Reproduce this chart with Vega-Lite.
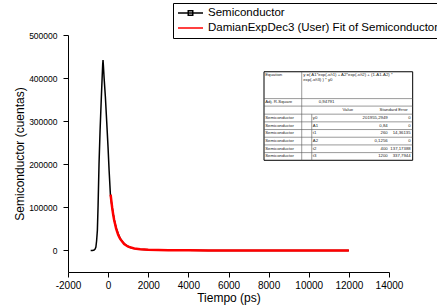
{
  "$schema": "https://vega.github.io/schema/vega-lite/v6.json",
  "width": 321,
  "height": 237,
  "autosize": "none",
  "padding": {"left": 68, "top": 35, "right": 48, "bottom": 34},
  "background": "white",
  "config": {
    "view": {"stroke": null},
    "font": "Liberation Sans",
    "axis": {
      "grid": false,
      "domainColor": "black",
      "tickColor": "black",
      "labelColor": "black",
      "titleColor": "black",
      "labelFont": "Liberation Sans",
      "titleFont": "Liberation Sans",
      "titleFontWeight": "normal",
      "titleFontSize": 12,
      "tickSize": 5,
      "labelOverlap": false,
      "labelFlush": false
    }
  },
  "datasets": {
    "semi": [
      {"t": -870, "v": 0, "s": "Semiconductor"},
      {"t": -780, "v": 0, "s": "Semiconductor"},
      {"t": -700, "v": 1000, "s": "Semiconductor"},
      {"t": -650, "v": 3000, "s": "Semiconductor"},
      {"t": -610, "v": 8000, "s": "Semiconductor"},
      {"t": -575, "v": 22000, "s": "Semiconductor"},
      {"t": -536, "v": 46500, "s": "Semiconductor"},
      {"t": -500, "v": 105000, "s": "Semiconductor"},
      {"t": -453, "v": 201600, "s": "Semiconductor"},
      {"t": -400, "v": 280000, "s": "Semiconductor"},
      {"t": -337, "v": 356700, "s": "Semiconductor"},
      {"t": -295, "v": 405000, "s": "Semiconductor"},
      {"t": -270, "v": 432000, "s": "Semiconductor"},
      {"t": -254, "v": 442000, "s": "Semiconductor"},
      {"t": -240, "v": 432000, "s": "Semiconductor"},
      {"t": -200, "v": 400000, "s": "Semiconductor"},
      {"t": -137, "v": 356700, "s": "Semiconductor"},
      {"t": -70, "v": 298000, "s": "Semiconductor"},
      {"t": -5, "v": 240400, "s": "Semiconductor"},
      {"t": 50, "v": 185000, "s": "Semiconductor"},
      {"t": 112, "v": 131000, "s": "Semiconductor"},
      {"t": 150, "v": 116000, "s": "Semiconductor"},
      {"t": 200, "v": 100000, "s": "Semiconductor"},
      {"t": 250, "v": 86000, "s": "Semiconductor"},
      {"t": 328, "v": 66000, "s": "Semiconductor"},
      {"t": 400, "v": 53000, "s": "Semiconductor"},
      {"t": 500, "v": 39000, "s": "Semiconductor"},
      {"t": 577, "v": 30500, "s": "Semiconductor"},
      {"t": 700, "v": 21000, "s": "Semiconductor"},
      {"t": 800, "v": 16000, "s": "Semiconductor"},
      {"t": 911, "v": 11500, "s": "Semiconductor"},
      {"t": 1100, "v": 7000, "s": "Semiconductor"},
      {"t": 1300, "v": 4800, "s": "Semiconductor"},
      {"t": 1574, "v": 3000, "s": "Semiconductor"},
      {"t": 2000, "v": 1700, "s": "Semiconductor"},
      {"t": 2500, "v": 1000, "s": "Semiconductor"},
      {"t": 3000, "v": 600, "s": "Semiconductor"},
      {"t": 4000, "v": 250, "s": "Semiconductor"},
      {"t": 5000, "v": 120, "s": "Semiconductor"},
      {"t": 6000, "v": 60, "s": "Semiconductor"},
      {"t": 8000, "v": 15, "s": "Semiconductor"},
      {"t": 10000, "v": 0, "s": "Semiconductor"},
      {"t": 12000, "v": 0, "s": "Semiconductor"}
    ],
    "fit": [
      {"t": 125, "v": 129700, "s": "DamianExpDec3 (User) Fit of Semiconductor"},
      {"t": 150, "v": 118850, "s": "DamianExpDec3 (User) Fit of Semiconductor"},
      {"t": 200, "v": 99890, "s": "DamianExpDec3 (User) Fit of Semiconductor"},
      {"t": 250, "v": 84060, "s": "DamianExpDec3 (User) Fit of Semiconductor"},
      {"t": 300, "v": 70890, "s": "DamianExpDec3 (User) Fit of Semiconductor"},
      {"t": 400, "v": 50710, "s": "DamianExpDec3 (User) Fit of Semiconductor"},
      {"t": 500, "v": 36650, "s": "DamianExpDec3 (User) Fit of Semiconductor"},
      {"t": 600, "v": 26760, "s": "DamianExpDec3 (User) Fit of Semiconductor"},
      {"t": 800, "v": 14820, "s": "DamianExpDec3 (User) Fit of Semiconductor"},
      {"t": 1000, "v": 8720, "s": "DamianExpDec3 (User) Fit of Semiconductor"},
      {"t": 1300, "v": 4480, "s": "DamianExpDec3 (User) Fit of Semiconductor"},
      {"t": 1600, "v": 2660, "s": "DamianExpDec3 (User) Fit of Semiconductor"},
      {"t": 2000, "v": 1560, "s": "DamianExpDec3 (User) Fit of Semiconductor"},
      {"t": 2500, "v": 910, "s": "DamianExpDec3 (User) Fit of Semiconductor"},
      {"t": 3000, "v": 570, "s": "DamianExpDec3 (User) Fit of Semiconductor"},
      {"t": 4000, "v": 250, "s": "DamianExpDec3 (User) Fit of Semiconductor"},
      {"t": 5000, "v": 110, "s": "DamianExpDec3 (User) Fit of Semiconductor"},
      {"t": 6000, "v": 47, "s": "DamianExpDec3 (User) Fit of Semiconductor"},
      {"t": 8000, "v": 9, "s": "DamianExpDec3 (User) Fit of Semiconductor"},
      {"t": 10000, "v": 2, "s": "DamianExpDec3 (User) Fit of Semiconductor"},
      {"t": 12000, "v": 0, "s": "DamianExpDec3 (User) Fit of Semiconductor"}
    ],
    "box": [
      {"x": 7770, "x2": 15180, "y": 209260, "y2": 414700}
    ],
    "grid": [
      {"x": 7770, "x2": 15180, "y": 352400, "y2": 352400},
      {"x": 7770, "x2": 15180, "y": 335000, "y2": 335000},
      {"x": 7770, "x2": 15180, "y": 316300, "y2": 316300},
      {"x": 7770, "x2": 15180, "y": 298460, "y2": 298460},
      {"x": 7770, "x2": 15180, "y": 280620, "y2": 280620},
      {"x": 7770, "x2": 15180, "y": 262780, "y2": 262780},
      {"x": 7770, "x2": 15180, "y": 244940, "y2": 244940},
      {"x": 7770, "x2": 15180, "y": 227100, "y2": 227100},
      {"x": 9650, "x2": 9650, "y": 209260, "y2": 414700},
      {"x": 10150, "x2": 10150, "y": 209260, "y2": 316300}
    ],
    "tleft": [
      {"x": 7830, "y": 407000, "txt": "Equation"},
      {"x": 9720, "y": 407000, "txt": "y =( A1*exp(-x/t1) + A2*exp(-x/t2) + (1-A1-A2) *"},
      {"x": 9720, "y": 395400, "txt": "exp(-x/t3) ) * y0"},
      {"x": 7830, "y": 344250, "txt": "Adj. R-Square"},
      {"x": 10500, "y": 344250, "txt": "0,94791"},
      {"x": 7830, "y": 307380, "txt": "Semiconductor"},
      {"x": 7830, "y": 289540, "txt": "Semiconductor"},
      {"x": 7830, "y": 271700, "txt": "Semiconductor"},
      {"x": 7830, "y": 253860, "txt": "Semiconductor"},
      {"x": 7830, "y": 236020, "txt": "Semiconductor"},
      {"x": 7830, "y": 218180, "txt": "Semiconductor"},
      {"x": 10200, "y": 307380, "txt": "y0"},
      {"x": 10200, "y": 289540, "txt": "A1"},
      {"x": 10200, "y": 271700, "txt": "t1"},
      {"x": 10200, "y": 253860, "txt": "A2"},
      {"x": 10200, "y": 236020, "txt": "t2"},
      {"x": 10200, "y": 218180, "txt": "t3"}
    ],
    "tright": [
      {"x": 13935, "y": 307380, "txt": "201955,2949"},
      {"x": 13935, "y": 289540, "txt": "0,84"},
      {"x": 13935, "y": 271700, "txt": "260"},
      {"x": 13935, "y": 253860, "txt": "0,1256"},
      {"x": 13935, "y": 236020, "txt": "400"},
      {"x": 13935, "y": 218180, "txt": "1200"},
      {"x": 15080, "y": 307380, "txt": "0"},
      {"x": 15080, "y": 289540, "txt": "0"},
      {"x": 15080, "y": 271700, "txt": "14,36135"},
      {"x": 15080, "y": 253860, "txt": "0"},
      {"x": 15080, "y": 236020, "txt": "137,17388"},
      {"x": 15080, "y": 218180, "txt": "337,7944"}
    ],
    "tcenter": [
      {"x": 11950, "y": 325600, "txt": "Value"},
      {"x": 14233, "y": 325600, "txt": "Standard Error"}
    ]
  },
  "layer": [
    {
      "data": {"name": "semi"},
      "mark": {"type": "line", "strokeWidth": 1.5, "color": "#000000"},
      "encoding": {
        "x": {
          "field": "t", "type": "quantitative", "title": "Tiempo (ps)",
          "scale": {"domain": [-2000, 14000], "nice": false, "zero": false},
          "axis": {
            "values": [-2000, -1000, 0, 1000, 2000, 3000, 4000, 5000, 6000, 7000, 8000, 9000, 10000, 11000, 12000, 13000, 14000],
            "labelExpr": "datum.value % 2000 === 0 ? '' + datum.value : ''",
            "labelFontSize": 10,
            "labelPadding": 3,
            "titlePadding": 2,
            "encode": {"ticks": {"update": {"y2": {"signal": "datum.value % 2000 === 0 ? 5 : 3"}}}}
          }
        },
        "y": {
          "field": "v", "type": "quantitative", "title": "Semiconductor (cuentas)",
          "scale": {"domain": [-50000, 500000], "nice": false, "zero": false},
          "axis": {
            "values": [0, 100000, 200000, 300000, 400000, 500000],
            "format": "d",
            "labelFontSize": 8.5,
            "labelPadding": 6,
            "titlePadding": 2
          }
        }
      }
    },
    {
      "data": {"name": "fit"},
      "mark": {"type": "line", "strokeWidth": 2.5, "color": "#ff0000"},
      "encoding": {
        "x": {"field": "t", "type": "quantitative", "title": "Tiempo (ps)"},
        "y": {"field": "v", "type": "quantitative", "title": "Semiconductor (cuentas)"}
      }
    },
    {
      "data": {"name": "fit"},
      "mark": {"type": "point", "opacity": 0, "filled": false},
      "encoding": {
        "x": {"field": "t", "type": "quantitative", "title": "Tiempo (ps)"},
        "y": {"field": "v", "type": "quantitative", "title": "Semiconductor (cuentas)"},
        "color": {
          "field": "s", "type": "nominal",
          "scale": {"domain": ["Semiconductor", "DamianExpDec3 (User) Fit of Semiconductor"], "range": ["#000000", "#ff0000"]},
          "legend": {
            "title": null, "orient": "none", "legendX": 105, "legendY": -32,
            "strokeColor": "black", "padding": 4, "labelFont": "Liberation Sans",
            "labelFontSize": 11.5, "labelColor": "black", "labelLimit": 400,
            "symbolSize": 100, "labelOffset": 19, "rowPadding": 3,
            "encode": {"symbols": {"update": {"fill": {"value": "black"}, "opacity": {"value": 1}, "strokeWidth": {"signal": "datum.value === 'Semiconductor' ? 1.5 : 2.5"}}}}
          }
        },
        "shape": {
          "field": "s", "type": "nominal",
          "scale": {"domain": ["Semiconductor", "DamianExpDec3 (User) Fit of Semiconductor"], "range": ["M-1,0H4M1.05,-0.45H1.95V0.45H1.05Z", "M-1,0H4"]},
          "legend": {
            "title": null, "orient": "none", "legendX": 105, "legendY": -32,
            "strokeColor": "black", "padding": 4, "labelFont": "Liberation Sans",
            "labelFontSize": 11.5, "labelColor": "black", "labelLimit": 400,
            "symbolSize": 100, "labelOffset": 19, "rowPadding": 3,
            "encode": {"symbols": {"update": {"fill": {"value": "black"}, "opacity": {"value": 1}, "strokeWidth": {"signal": "datum.value === 'Semiconductor' ? 1.5 : 2.5"}}}}
          }
        }
      }
    },
    {
      "data": {"name": "box"},
      "mark": {"type": "rect", "fill": "white", "stroke": "black", "strokeWidth": 1},
      "encoding": {
        "x": {"field": "x", "type": "quantitative", "title": "Tiempo (ps)"},
        "x2": {"field": "x2"},
        "y": {"field": "y", "type": "quantitative", "title": "Semiconductor (cuentas)"},
        "y2": {"field": "y2"}
      }
    },
    {
      "data": {"name": "grid"},
      "mark": {"type": "rule", "stroke": "#555555", "strokeWidth": 0.6},
      "encoding": {
        "x": {"field": "x", "type": "quantitative", "title": "Tiempo (ps)"},
        "x2": {"field": "x2"},
        "y": {"field": "y", "type": "quantitative", "title": "Semiconductor (cuentas)"},
        "y2": {"field": "y2"}
      }
    },
    {
      "data": {"name": "tleft"},
      "mark": {"type": "text", "align": "left", "baseline": "middle", "fontSize": 4.3, "font": "Liberation Sans", "color": "#222222"},
      "encoding": {
        "x": {"field": "x", "type": "quantitative", "title": "Tiempo (ps)"},
        "y": {"field": "y", "type": "quantitative", "title": "Semiconductor (cuentas)"},
        "text": {"field": "txt"}
      }
    },
    {
      "data": {"name": "tright"},
      "mark": {"type": "text", "align": "right", "baseline": "middle", "fontSize": 4.3, "font": "Liberation Sans", "color": "#222222"},
      "encoding": {
        "x": {"field": "x", "type": "quantitative", "title": "Tiempo (ps)"},
        "y": {"field": "y", "type": "quantitative", "title": "Semiconductor (cuentas)"},
        "text": {"field": "txt"}
      }
    },
    {
      "data": {"name": "tcenter"},
      "mark": {"type": "text", "align": "center", "baseline": "middle", "fontSize": 4.3, "font": "Liberation Sans", "color": "#222222"},
      "encoding": {
        "x": {"field": "x", "type": "quantitative", "title": "Tiempo (ps)"},
        "y": {"field": "y", "type": "quantitative", "title": "Semiconductor (cuentas)"},
        "text": {"field": "txt"}
      }
    }
  ]
}
